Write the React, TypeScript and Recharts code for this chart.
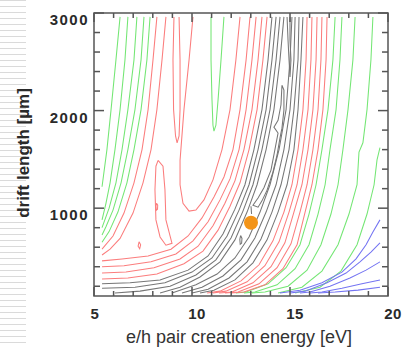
import { ReferenceArea, Scatter, ScatterChart, XAxis, YAxis } from "recharts";
import type { ReactElement } from "react";

type Pt = [number, number]; // [energy eV, drift length um]

const energyTicks = [5, 6, 7, 8, 9, 10, 11, 12, 13, 14, 15, 16, 17, 18, 19, 20];
const driftTicks = [200, 400, 600, 800, 1000, 1200, 1400, 1600, 1800, 2000, 2200, 2400, 2600, 2800, 3000];
const energyLabels = [5, 10, 15, 20];
const driftLabels = [1000, 2000, 3000];

// left green contours
const g1: Pt[] = [[6.33, 2960], [6.12, 2520], [5.87, 2010], [5.66, 1600], [5.41, 1220]];
const g2: Pt[] = [[6.73, 2960], [6.58, 2520], [6.33, 2010], [6.07, 1600], [5.82, 1260], [5.61, 1050], [5.41, 880]];
const g3: Pt[] = [[7.19, 2960], [7.04, 2520], [6.73, 2010], [6.43, 1600], [6.12, 1260], [5.77, 1000], [5.41, 800]];
const g4: Pt[] = [[7.55, 2960], [7.4, 2520], [7.09, 2010], [6.73, 1600], [6.38, 1260], [5.97, 980], [5.61, 810], [5.41, 725]];
const g5: Pt[] = [[7.86, 2960], [7.7, 2520], [7.4, 2010], [7.04, 1600], [6.68, 1260], [6.22, 960], [5.77, 760], [5.41, 650]];
const g6: Pt[] = [[10.97, 2960], [10.97, 2520], [11.02, 2110], [11.07, 1850], [11.12, 1790], [11.22, 1850], [11.33, 2110], [11.48, 2520], [11.63, 2960]];
// right green contours
const gr1: Pt[] = [[17.3, 2960], [17.19, 2520], [16.94, 2010], [16.63, 1600], [16.33, 1240], [15.97, 940], [15.51, 625], [14.8, 390], [13.88, 225], [12.76, 140], [12.24, 130]];
const gr2: Pt[] = [[17.65, 2960], [17.55, 2520], [17.35, 2010], [17.04, 1600], [16.79, 1240], [16.43, 940], [15.97, 625], [15.26, 380], [14.34, 215], [13.21, 140], [12.65, 130]];
const gr3: Pt[] = [[18.32, 2960], [18.21, 2520], [17.96, 2010], [17.7, 1600], [17.45, 1240], [17.09, 940], [16.58, 625], [15.87, 365], [14.9, 200], [13.72, 140], [13.06, 130]];
const gr4: Pt[] = [[19.23, 2960], [19.13, 2520], [18.93, 2010], [18.72, 1670], [18.52, 1575], [18.42, 1240], [18.01, 940], [17.45, 625], [16.63, 355], [15.61, 190], [14.39, 130]];
const gr5: Pt[] = [[19.59, 1620], [19.44, 1495], [19.29, 1240], [18.93, 940], [18.42, 625], [17.6, 355], [16.53, 190], [15.26, 130]];

// red contours
const r1: Pt[] = [[8.21, 2960], [8.01, 2520], [7.76, 2010], [7.45, 1600], [7.04, 1260], [6.53, 950], [5.97, 715], [5.41, 580]];
const r2: Pt[] = [[8.67, 2960], [8.47, 2520], [8.21, 2010], [7.91, 1600], [7.5, 1260], [6.99, 950], [6.33, 690], [5.82, 580], [5.41, 520]];
const rLoopTop: Pt[] = [[9.08, 2960], [9.03, 2520], [9.06, 2010], [9.16, 1740], [9.24, 1670], [9.34, 1740], [9.39, 2010], [9.39, 2520], [9.34, 2960]];
const rRidge: Pt[] = [[10.05, 2960], [9.85, 2520], [9.59, 2010], [9.39, 1490], [9.39, 1240], [9.54, 1050], [9.85, 970], [10.2, 980], [10.61, 1085], [11.07, 1290], [11.53, 1600], [11.94, 2010], [12.24, 2520], [12.45, 2960]];
const rInner: Pt[] = [[8.27, 1490], [8.52, 1430], [8.62, 1190], [8.67, 880], [8.88, 715], [8.98, 640], [8.67, 620], [8.37, 705], [8.16, 880], [8.11, 1190], [8.16, 1430], [8.27, 1490]];
const rDot1: Pt[] = [[8.19, 1050], [8.25, 1030], [8.24, 990], [8.18, 980], [8.16, 1020], [8.19, 1050]];
const rDot2: Pt[] = [[7.3, 655], [7.38, 625], [7.33, 585], [7.25, 610], [7.3, 655]];
const r5: Pt[] = [[12.96, 2960], [12.76, 2520], [12.45, 2010], [12.09, 1600], [11.63, 1320], [11.12, 1115], [10.51, 900], [9.8, 715], [8.93, 580], [7.76, 510], [6.43, 480], [5.41, 460]];
const r6: Pt[] = [[13.27, 2960], [13.06, 2520], [12.76, 2010], [12.4, 1600], [11.94, 1300], [11.43, 1085], [10.82, 860], [10.05, 665], [9.18, 530], [7.91, 450], [6.53, 410], [5.41, 400]];
const r7: Pt[] = [[13.57, 2960], [13.37, 2520], [13.06, 2010], [12.65, 1600], [12.19, 1280], [11.68, 1050], [11.07, 820], [10.31, 610], [9.39, 480], [8.06, 390], [6.63, 345], [5.41, 335]];
const r8: Pt[] = [[13.83, 2960], [13.62, 2520], [13.32, 2010], [12.91, 1600], [12.45, 1260], [11.94, 1020], [11.33, 775], [10.56, 560], [9.59, 430], [8.21, 325], [6.73, 285], [5.41, 275]];
const rr1: Pt[] = [[15.87, 2960], [15.82, 2520], [15.66, 2010], [15.41, 1600], [15.1, 1240], [14.69, 960], [14.13, 665], [13.42, 420], [12.5, 255], [11.43, 150], [10.77, 130]];
const rr2: Pt[] = [[16.12, 2960], [16.07, 2520], [15.92, 2010], [15.66, 1600], [15.36, 1240], [14.95, 960], [14.44, 655], [13.72, 410], [12.81, 245], [11.73, 150], [11.07, 130]];
const rr3: Pt[] = [[16.38, 2960], [16.33, 2520], [16.17, 2010], [15.92, 1600], [15.61, 1240], [15.2, 960], [14.74, 645], [14.03, 400], [13.11, 235], [12.04, 140], [11.38, 130]];
const rr4: Pt[] = [[16.63, 2960], [16.58, 2520], [16.43, 2010], [16.17, 1600], [15.87, 1240], [15.51, 960], [15.05, 635], [14.34, 390], [13.42, 225], [12.35, 140], [11.68, 130]];
const rr5: Pt[] = [[16.89, 2960], [16.84, 2520], [16.68, 2010], [16.43, 1600], [16.12, 1240], [15.77, 960], [15.36, 625], [14.64, 380], [13.72, 215], [12.65, 140], [11.99, 130]];

// gray contours around the minimum valley
const kl1: Pt[] = [[14.08, 2960], [13.88, 2520], [13.57, 2010], [13.16, 1600], [12.7, 1240], [12.19, 990], [11.58, 735], [10.82, 510], [9.8, 365], [8.37, 265], [6.84, 235], [5.41, 225]];
const kl2: Pt[] = [[14.29, 2960], [14.08, 2520], [13.78, 2010], [13.37, 1600], [12.91, 1240], [12.4, 980], [11.79, 715], [11.02, 490], [10.0, 345], [8.62, 235], [7.09, 190], [5.41, 180]];
const kl3: Pt[] = [[14.49, 2960], [14.29, 2520], [13.98, 2010], [13.57, 1600], [13.11, 1240], [12.6, 970], [11.99, 695], [11.22, 470], [10.2, 315], [8.88, 200], [7.35, 150], [6.07, 130]];
const kl4: Pt[] = [[14.69, 2960], [14.49, 2520], [14.18, 2010], [13.78, 1600], [13.32, 1240], [12.81, 960], [12.19, 675], [11.43, 450], [10.41, 295], [9.39, 190], [8.37, 130]];
const kr1: Pt[] = [[15.1, 2960], [15.0, 2520], [14.8, 2010], [14.44, 1600], [13.98, 1240], [13.47, 960], [12.91, 705], [12.19, 490], [11.28, 325], [10.2, 215], [8.98, 130]];
const kr2: Pt[] = [[15.26, 2960], [15.2, 2520], [15.0, 2010], [14.69, 1600], [14.29, 1240], [13.78, 960], [13.21, 695], [12.5, 470], [11.58, 305], [10.51, 190], [9.49, 130]];
const kr3: Pt[] = [[15.46, 2960], [15.41, 2520], [15.2, 2010], [14.95, 1600], [14.54, 1240], [14.08, 960], [13.52, 685], [12.81, 450], [11.89, 285], [10.82, 170], [10.0, 130]];
const kr4: Pt[] = [[15.66, 2960], [15.56, 2520], [15.41, 2010], [15.2, 1600], [14.85, 1240], [14.39, 960], [13.83, 675], [13.11, 440], [12.19, 265], [11.12, 160], [10.41, 130]];
const kTop: Pt[] = [[14.85, 2960], [14.9, 2720], [14.95, 2520], [15.0, 2345], [15.05, 2520], [15.0, 2720], [15.0, 2960]];
const kCore: Pt[] = [[14.59, 2260], [14.54, 2060], [14.39, 1900], [14.18, 1830], [14.39, 1770], [14.23, 1600], [14.03, 1390], [13.67, 1210], [13.37, 1105], [13.11, 1030], [13.37, 1010], [13.57, 1075], [13.83, 1185], [14.13, 1370], [14.34, 1545], [14.49, 1720], [14.59, 1820], [14.69, 2005], [14.69, 2210], [14.59, 2260]];
const kTick: Pt[] = [[13.01, 1020], [13.04, 940]];
const kSmall: Pt[] = [[12.48, 720], [12.55, 690], [12.53, 640], [12.46, 630], [12.44, 680], [12.48, 720]];

// blue contours (lower right)
const b1: Pt[] = [[19.59, 880], [19.23, 755], [18.88, 625], [18.37, 480], [17.65, 345], [16.63, 235], [15.51, 160], [14.49, 130]];
const b2: Pt[] = [[19.59, 645], [19.13, 550], [18.57, 450], [17.86, 335], [16.89, 235], [15.77, 150], [15.0, 130]];
const b3: Pt[] = [[19.59, 450], [18.88, 365], [18.06, 285], [17.04, 200], [16.02, 140], [15.51, 130]];
const b4: Pt[] = [[19.59, 265], [18.67, 225], [17.65, 180], [16.63, 140], [16.02, 130]];
const b5: Pt[] = [[19.59, 190], [18.47, 160], [17.3, 140], [16.43, 130]];

const bestFit: Pt[] = [[13.01, 850]];

const greenLines = [g1, g2, g3, g4, g5, g6, gr1, gr2, gr3, gr4, gr5];
const redLines = [r1, r2, rLoopTop, rRidge, rInner, rDot1, rDot2, r5, r6, r7, r8, rr1, rr2, rr3, rr4, rr5];
const grayLines = [kl1, kl2, kl3, kl4, kr1, kr2, kr3, kr4, kTop, kCore, kTick, kSmall];
const blueLines = [b1, b2, b3, b4, b5];

const PLOT_W = 294;
const PLOT_H = 283;
const FONT = "'Liberation Sans', Arial, Helvetica, sans-serif";

const toPoints = (line: Pt[]) => line.map(([e, d]) => ({ e, d }));
const NoDot = (): ReactElement => <g />;

function EnergyTick({ x, y, payload }: any): ReactElement {
  const v = payload.value as number;
  const major = v % 5 === 0;
  const len = major ? 9 : 5;
  return (
    <g>
      <line x1={x} y1={y} x2={x} y2={y - len} stroke="#555" strokeWidth={1.5} />
      <line x1={x} y1={y - PLOT_H} x2={x} y2={y - PLOT_H + len} stroke="#555" strokeWidth={1.5} />
      {energyLabels.includes(v) && (
        <text x={x + (v >= 10 ? 5 : 1)} y={y + 23} textAnchor="middle" fontFamily={FONT} fontSize={15} fontWeight="bold" fill="#2a2a2a" letterSpacing={0.5}>
          {v}
        </text>
      )}
    </g>
  );
}

function DriftTick({ x, y, payload }: any): ReactElement {
  const v = payload.value as number;
  const major = v % 1000 === 0;
  const len = major ? 10 : 6;
  return (
    <g>
      <line x1={x} y1={y} x2={x + len} y2={y} stroke="#555" strokeWidth={1.5} />
      <line x1={x + PLOT_W} y1={y} x2={x + PLOT_W - len} y2={y} stroke="#555" strokeWidth={1.5} />
      {driftLabels.includes(v) && (
        <text x={x - 5} y={y + 12} textAnchor="end" fontFamily={FONT} fontSize={15} fontWeight="bold" fill="#2a2a2a" letterSpacing={1.5}>
          {v}
        </text>
      )}
    </g>
  );
}

export default function App(): ReactElement {
  const series = [
    ...greenLines.map((l) => ({ l, c: "#74e674" })),
    ...redLines.map((l) => ({ l, c: "#fb7d7d" })),
    ...blueLines.map((l) => ({ l, c: "#7474f2" })),
    ...grayLines.map((l) => ({ l, c: "#767676" })),
  ];
  return (
    <div style={{ position: "absolute", left: 0, top: 0, width: 404, height: 348, background: "#fff", overflow: "hidden" }}>
      <div
        style={{
          position: "absolute",
          left: 0,
          top: 0,
          width: 26,
          height: 348,
          backgroundImage: "repeating-linear-gradient(to bottom, #dadada 0px, #dadada 1.5px, transparent 1.5px, transparent 6px)",
        }}
      />
      <ScatterChart width={404} height={348} margin={{ top: 13, right: 16, bottom: 0, left: 0 }}>
        <XAxis type="number" dataKey="e" domain={[5, 20]} ticks={energyTicks} interval={0} height={52} axisLine={false} tickLine={false} tickSize={0} tickMargin={0} tick={<EnergyTick />} allowDataOverflow />
        <YAxis type="number" dataKey="d" domain={[100, 3000]} ticks={driftTicks} interval={0} width={94} axisLine={false} tickLine={false} tickSize={0} tickMargin={0} tick={<DriftTick />} allowDataOverflow />
        {series.map((s, i) => (
          <Scatter key={i} data={toPoints(s.l)} line={{ stroke: s.c, strokeWidth: 1.05 }} shape={NoDot} isAnimationActive={false} legendType="none" />
        ))}
        <Scatter data={toPoints(bestFit)} fill="#f39418" shape={(p: any) => <circle cx={p.cx} cy={p.cy} r={7} fill="#f39418" />} isAnimationActive={false} legendType="none" />
        <ReferenceArea x1={5} x2={20} y1={100} y2={3000} fill="none" stroke="#555" strokeWidth={1.5} ifOverflow="extendDomain" />
      </ScatterChart>
      <svg width={404} height={348} style={{ position: "absolute", left: 0, top: 0, pointerEvents: "none" }}>
        <text transform="translate(29 153) rotate(-90)" textAnchor="middle" fontFamily={FONT} fontSize={17} fontWeight="bold" fill="#2a2a2a">
          drift length [µm]
        </text>
        <text x={239} y={343} textAnchor="middle" fontFamily={FONT} fontSize={18} fill="#333">
          e/h pair creation energy [eV]
        </text>
      </svg>
    </div>
  );
}
